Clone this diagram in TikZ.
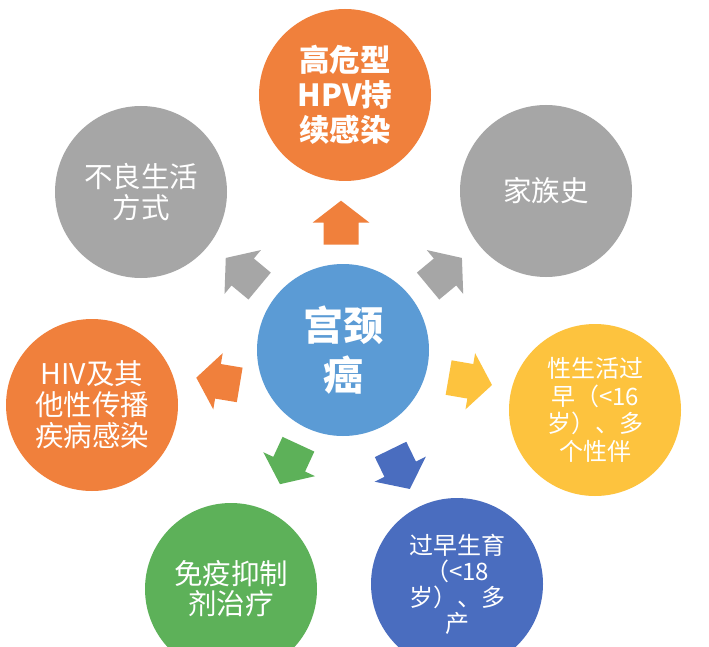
\documentclass[tikz,border=0pt]{standalone}
\usepackage{fontspec}
\newfontfamily\cjk{Noto Sans CJK SC}
\definecolor{cOrange}{RGB}{240,128,60}
\definecolor{cGray}{RGB}{166,166,166}
\definecolor{cYellow}{RGB}{253,195,62}
\definecolor{cCenter}{RGB}{91,155,213}
\definecolor{cBlue}{RGB}{74,109,191}
\definecolor{cGreen}{RGB}{93,177,89}
\newcommand\blockarrow[4]{\fill[#4,shift={(#1,#2)},rotate=#3] (-22,-17.5) -- (0,-17.5) -- (0,-28.5) -- (22,0) -- (0,28.5) -- (0,17.5) -- (-22,17.5) -- cycle;}
\begin{document}
\begin{tikzpicture}[x=1pt,y=-1pt,
  circ/.style={circle, minimum size=172pt, inner sep=0pt, text=white, align=center},
  txtA/.style={font=\cjk\fontsize{28.5}{31}\selectfont},
  txtB/.style={font=\cjk\fontsize{24}{27}\selectfont},
  txtC/.style={font=\cjk\bfseries\fontsize{30.5}{35}\selectfont},
  txtD/.style={font=\cjk\bfseries\fontsize{40}{50}\selectfont}]
\useasboundingbox (0,0) rectangle (709,647);
\fill[white] (0,0) rectangle (709,647);
\clip (0,0) rectangle (709,647);
\node[circ, fill=cCenter, txtD] (c) at (343,350) {宫颈\\癌};
\node[circ, fill=cOrange, txtC] (hpv) at (345,95) {高危型\\HPV持\\续感染};
\node[circ, fill=cGray, txtA] (life) at (141,192) {不良生活\\方式};
\node[circ, fill=cGray, txtA] (fam) at (546,191) {家族史};
\node[circ, fill=cOrange, txtA] (hiv) at (92,405) {HIV及其\\他性传播\\疾病感染};
\node[circ, fill=cYellow, txtB, font=\cjk\fontsize{24}{27.7}\selectfont] (sex) at (595,410) {性生活过\\早（<16\\岁）、多\\个性伴};
\node[circ, fill=cGreen, txtA, font=\cjk\fontsize{28.5}{30}\selectfont] (imm) at (231,589) {免疫抑制\\剂治疗};
\node[circ, fill=cBlue, txtB, font=\cjk\fontsize{24}{26}\selectfont] (birth) at (457,584) {过早生育\\（<18\\岁）、多\\产};
\blockarrow{341}{222.7}{90}{cOrange}
\blockarrow{242.7}{272}{140.3}{cGray}
\blockarrow{445}{272}{39.7}{cGray}
\blockarrow{470.3}{381.3}{-9.75}{cYellow}
\blockarrow{218}{381.3}{170.5}{cOrange}
\blockarrow{289.2}{464.2}{-114.8}{cGreen}
\blockarrow{400.2}{469.2}{-64}{cBlue}
\end{tikzpicture}
\end{document}
